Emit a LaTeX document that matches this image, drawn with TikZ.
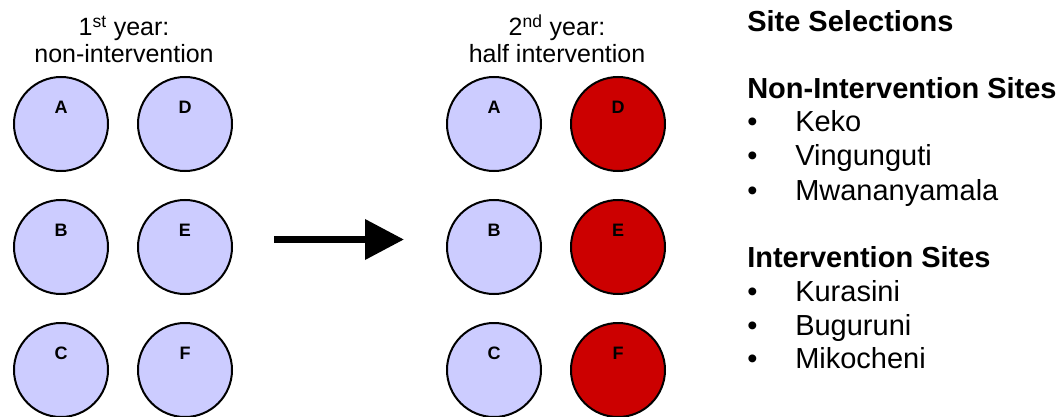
\documentclass[tikz,border=0pt]{standalone}
\usepackage{fontspec}
\setmainfont{Liberation Sans}
\usetikzlibrary{arrows.meta}
\definecolor{siteblue}{HTML}{CCCCFF}
\definecolor{sitered}{HTML}{CC0000}

\begin{document}
\begin{tikzpicture}[x=0.75pt,y=-0.75pt,
  site/.style={circle,draw=black,line width=1.5pt,minimum size=70.5pt,inner sep=0pt,fill=siteblue},
  letter/.style={font=\fontsize{13.5}{16}\selectfont\bfseries,inner sep=0pt,yshift=12.75pt},
  title/.style={font=\fontsize{18.75}{21}\selectfont,anchor=base,inner sep=0pt},
  head/.style={font=\fontsize{21.75}{25}\selectfont\bfseries,anchor=base west,inner sep=0pt},
  item/.style={font=\fontsize{21.75}{25}\selectfont,anchor=base west,inner sep=0pt}]
  \useasboundingbox (0,0) rectangle (1063,417);
  % year titles
  \node[title] (yr1) at (124,36) {1\textsuperscript{st} year:};
  \node[title] (yr1b) at (124,63) {non-intervention};
  \node[title] (yr2) at (557,36) {2\textsuperscript{nd} year:};
  \node[title] (yr2b) at (557,63) {half intervention};
  % first year: all sites without intervention
  \foreach \c/\x/\y in {A/61/124,B/61/247,C/61/370,D/185/124,E/185/247,F/185/370}
    \node[site,label={[letter]center:\c}] (one\c) at (\x,\y) {};
  % second year: D, E, F get the intervention
  \foreach \c/\x/\y/\f in {A/494/124/siteblue,B/494/247/siteblue,C/494/370/siteblue,
                           D/618/124/sitered,E/618/247/sitered,F/618/370/sitered}
    \node[site,fill=\f,label={[letter]center:\c}] (two\c) at (\x,\y) {};
  % arrow between the years
  \coordinate (go) at (274,239.5);
  \coordinate (stop) at (404,239.5);
  \draw[line width=5.25pt,-{Triangle[length=29.25pt,width=29.25pt]}] (go) -- (stop);
  % site list
  \foreach \y/\t [count=\i] in {32/Site Selections,99/Non-Intervention Sites,267/Intervention Sites}
    \node[head] (head\i) at (747,\y) {\t};
  \foreach \y/\t [count=\i] in {132/Keko,166/Vingunguti,200/Mwananyamala,301/Kurasini,335/Buguruni,368/Mikocheni} {
    \node[item] (dot\i) at (747,\y) {•};
    \node[item] (place\i) at (795,\y) {\t};
  }
\end{tikzpicture}
\end{document}
